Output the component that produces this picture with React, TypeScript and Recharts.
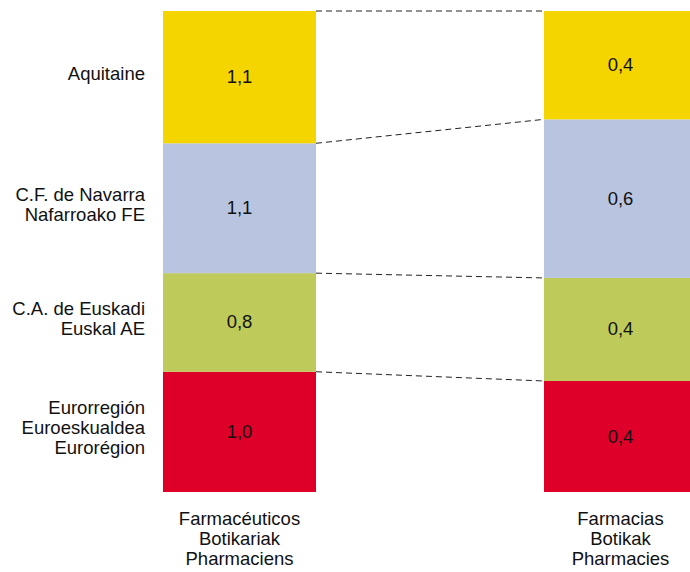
import { BarChart, Bar, XAxis, YAxis } from 'recharts'

const categories = ['Farmacéuticos\nBotikariak\nPharmaciens', 'Farmacias\nBotikak\nPharmacies']

// bottom to top of the stack
const regionNames = ['Eurorregión\nEuroeskualdea\nEurorégion', 'C.A. de Euskadi\nEuskal AE', 'C.F. de Navarra\nNafarroako FE', 'Aquitaine']
const regionKeys = ['eurorregion', 'euskadi', 'navarra', 'aquitaine']
const regionColors = ['#DE0029', '#BECA59', '#B8C4E0', '#F5D500']

const eurorregion = [1.0, 0.42]
const euskadi = [0.82, 0.39]
const navarra = [1.08, 0.6]
const aquitaine = [1.1, 0.41]

const seriesValues = [eurorregion, euskadi, navarra, aquitaine]

const CHART_W = 811
const CHART_H = 572
const MARGIN = { top: 11, right: 0, bottom: 0, left: 49 }
const STEP = (CHART_W - MARGIN.left - MARGIN.right) / categories.length
const FONT = '"Liberation Sans", Arial, sans-serif'
const TEXT = '#111'
const LINE_H = 20

const totals = categories.map((_, i) => seriesValues.reduce((sum, s) => sum + s[i], 0))
const shares = seriesValues.map((s) => s.map((v, i) => v / totals[i]))
const cumTop = shares.map((_, s) => categories.map((_, i) => shares.slice(0, s + 1).reduce((sum, sh) => sum + sh[i], 0)))

const data = categories.map((name, i) => {
  const row: Record<string, any> = { name }
  regionKeys.forEach((k, s) => {
    row[k] = shares[s][i]
  })
  return row
})

const fmt = (v: number) => v.toFixed(1).replace('.', ',')

const makeShape = (s: number) => (props: any) => {
  const { x, y, width, height, index } = props
  const cx = x + width / 2
  const cy = y + height / 2
  const plotH = height / shares[s][index]
  const other = index === 0 ? 1 : 0
  const yOther = y + plotH * (cumTop[s][index] - cumTop[s][other])
  const lines = regionNames[s].split('\n')
  return (
    <g>
      <rect x={x} y={y} width={width} height={height} fill={regionColors[s]} />
      <text x={cx} y={cy + 6} textAnchor="middle" fontFamily={FONT} fontSize={18.5} fill={TEXT}>
        {fmt(seriesValues[s][index])}
      </text>
      {index === 0 && (
        <>
          <line x1={x + width} y1={y} x2={x + STEP} y2={yOther} stroke="#222" strokeWidth={1} strokeDasharray="6 4" />
          <text textAnchor="end" fontFamily={FONT} fontSize={18.5} fill={TEXT}>
            {lines.map((l, i) => (
              <tspan key={i} x={x - 18} y={cy + 2.5 + (i - (lines.length - 1) / 2) * LINE_H}>
                {l}
              </tspan>
            ))}
          </text>
        </>
      )}
    </g>
  )
}

const CategoryTick = ({ x, y, payload }: any) => {
  const lines = String(payload.value).split('\n')
  return (
    <text textAnchor="middle" fontFamily={FONT} fontSize={18.5} fill={TEXT}>
      {lines.map((l, i) => (
        <tspan key={i} x={x} y={y + 33 + i * LINE_H}>
          {l}
        </tspan>
      ))}
    </text>
  )
}

export default function App() {
  return (
    <div style={{ position: 'absolute', left: 0, top: 0, width: 690, height: 572, overflow: 'hidden', background: '#fff' }}>
      <BarChart width={CHART_W} height={CHART_H} data={data} margin={MARGIN} barSize={153}>
        <XAxis
          dataKey="name"
          height={80}
          axisLine={false}
          tickLine={false}
          tickSize={0}
          tickMargin={0}
          interval={0}
          tick={<CategoryTick />}
        />
        <YAxis hide domain={[0, 1]} />
        {regionKeys.map((k, s) => (
          <Bar key={k} dataKey={k} stackId="a" fill={regionColors[s]} shape={makeShape(s)} isAnimationActive={false} />
        ))}
      </BarChart>
    </div>
  )
}
